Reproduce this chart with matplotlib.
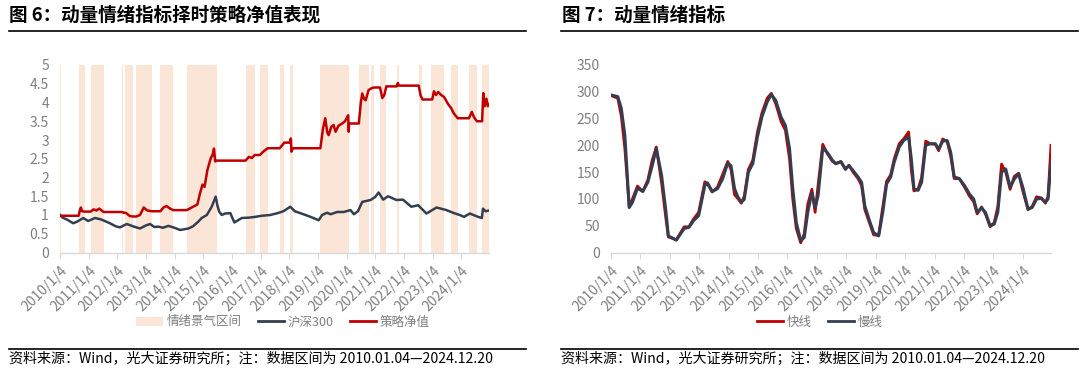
import matplotlib
matplotlib.use('Agg')
import matplotlib.pyplot as plt
from matplotlib.lines import Line2D
from matplotlib.patches import Patch

plt.rcParams['font.family'] = ['Noto Sans CJK SC', 'DejaVu Sans']

# ---- 图6 数据 (年份用小数表示) ----
band_start = [2010.01, 2010.66, 2011.08, 2012.18, 2012.28, 2012.67, 2013.51, 2014.43,
              2016.48, 2016.98, 2017.67, 2018.02, 2019.09, 2020.42, 2020.87, 2021.17,
              2021.75, 2022.52, 2022.96, 2023.64, 2024.26, 2024.73]
band_end = [2010.05, 2010.88, 2011.53, 2012.22, 2012.57, 2013.22, 2013.96, 2015.47,
            2016.80, 2017.25, 2017.83, 2018.13, 2020.09, 2020.77, 2020.96, 2021.39,
            2021.83, 2022.65, 2023.40, 2023.88, 2024.54, 2024.97]

nav_t = [2010.01, 2010.05, 2010.66, 2010.70, 2010.74, 2010.78, 2010.88, 2011.08, 2011.18, 2011.28,
         2011.38, 2011.53, 2012.18, 2012.22, 2012.30, 2012.45, 2012.57, 2012.67, 2012.80, 2012.93,
         2013.05, 2013.22, 2013.51, 2013.62, 2013.72, 2013.85, 2013.96, 2014.43, 2014.60, 2014.80,
         2014.90, 2014.98, 2015.05, 2015.15, 2015.27, 2015.33, 2015.38, 2015.42, 2015.47, 2016.48,
         2016.60, 2016.70, 2016.80, 2016.98, 2017.10, 2017.25, 2017.67, 2017.78, 2017.83, 2018.02,
         2018.06, 2018.08, 2018.13, 2019.09, 2019.18, 2019.26, 2019.33, 2019.38, 2019.47, 2019.55,
         2019.62, 2019.72, 2019.85, 2019.95, 2020.06, 2020.08, 2020.09, 2020.43, 2020.50, 2020.55,
         2020.61, 2020.67, 2020.77, 2020.87, 2020.96, 2021.17, 2021.25, 2021.32, 2021.39, 2021.75,
         2021.79, 2021.83, 2022.52, 2022.58, 2022.65, 2022.99, 2023.05, 2023.12, 2023.20, 2023.30,
         2023.40, 2023.55, 2023.65, 2023.75, 2023.88, 2024.27, 2024.37, 2024.45, 2024.55, 2024.73,
         2024.77, 2024.82, 2024.88, 2024.93, 2024.97]
nav_v = [1.00, 0.98, 0.98, 1.12, 1.20, 1.10, 1.09, 1.09, 1.15, 1.12,
         1.17, 1.08, 1.08, 1.06, 1.06, 0.97, 0.96, 0.96, 1.00, 1.20,
         1.12, 1.10, 1.10, 1.20, 1.24, 1.17, 1.13, 1.13, 1.20, 1.28,
         1.60, 1.81, 1.75, 2.20, 2.52, 2.60, 2.77, 2.43, 2.45, 2.45,
         2.55, 2.52, 2.60, 2.60, 2.69, 2.78, 2.78, 2.88, 2.93, 2.93,
         3.04, 2.69, 2.78, 2.78, 3.30, 3.58, 3.20, 3.13, 3.35, 3.40,
         3.22, 3.38, 3.44, 3.50, 3.66, 3.22, 3.44, 3.44, 4.00, 4.24,
         4.10, 4.06, 4.33, 4.38, 4.40, 4.40, 4.12, 4.20, 4.43, 4.43,
         4.52, 4.45, 4.45, 4.20, 4.08, 4.08, 4.30, 4.20, 4.28, 4.20,
         4.15, 3.95, 3.85, 3.70, 3.58, 3.58, 3.75, 3.60, 3.50, 3.50,
         4.25, 3.90, 4.10, 3.90, 3.95]

hs_t = [2010.01, 2010.10, 2010.25, 2010.47, 2010.60, 2010.82, 2010.99, 2011.23, 2011.45, 2011.75,
        2011.95, 2012.10, 2012.34, 2012.55, 2012.80, 2013.00, 2013.15, 2013.30, 2013.44, 2013.60,
        2013.79, 2014.00, 2014.20, 2014.49, 2014.65, 2014.83, 2014.95, 2015.13, 2015.30, 2015.44,
        2015.50, 2015.56, 2015.65, 2015.77, 2015.95, 2016.09, 2016.35, 2016.60, 2016.81, 2017.05,
        2017.34, 2017.60, 2017.80, 2018.04, 2018.20, 2018.50, 2018.75, 2019.03, 2019.15, 2019.32,
        2019.45, 2019.67, 2019.90, 2020.14, 2020.26, 2020.40, 2020.55, 2020.84, 2021.00, 2021.12,
        2021.28, 2021.45, 2021.74, 2021.97, 2022.26, 2022.50, 2022.79, 2023.14, 2023.49, 2023.75,
        2023.95, 2024.10, 2024.30, 2024.59, 2024.72, 2024.76, 2024.85, 2024.97]
hs_v = [1.00, 0.93, 0.88, 0.78, 0.82, 0.92, 0.84, 0.92, 0.88, 0.78,
        0.70, 0.67, 0.76, 0.70, 0.64, 0.72, 0.76, 0.68, 0.69, 0.66,
        0.71, 0.66, 0.60, 0.64, 0.70, 0.82, 0.92, 1.00, 1.22, 1.49,
        1.25, 1.09, 1.00, 1.04, 1.05, 0.80, 0.92, 0.93, 0.95, 0.98,
        1.00, 1.05, 1.10, 1.22, 1.10, 1.02, 0.95, 0.86, 1.00, 1.06,
        1.02, 1.08, 1.08, 1.13, 1.02, 1.10, 1.35, 1.40, 1.48, 1.60,
        1.41, 1.50, 1.40, 1.41, 1.22, 1.26, 1.04, 1.20, 1.13, 1.05,
        1.00, 0.95, 1.04, 0.95, 0.92, 1.17, 1.10, 1.12]

# ---- 图7 数据 ----
mo_t = [2010.01, 2010.24, 2010.36, 2010.48, 2010.63, 2010.74, 2010.91, 2011.09, 2011.26, 2011.41,
        2011.55, 2011.73, 2011.88, 2011.96, 2012.23, 2012.50, 2012.66, 2012.81, 2012.99, 2013.20,
        2013.29, 2013.45, 2013.63, 2013.80, 2013.98, 2014.09, 2014.21, 2014.33, 2014.44, 2014.54,
        2014.68, 2014.83, 2014.99, 2015.14, 2015.32, 2015.46, 2015.61, 2015.79, 2015.94, 2016.08,
        2016.19, 2016.31, 2016.46, 2016.58, 2016.70, 2016.84, 2016.95, 2017.05, 2017.21, 2017.36,
        2017.54, 2017.65, 2017.83, 2017.98, 2018.10, 2018.24, 2018.41, 2018.53, 2018.64, 2018.80,
        2018.94, 2019.11, 2019.25, 2019.38, 2019.52, 2019.64, 2019.81, 2019.96, 2020.13, 2020.22,
        2020.31, 2020.45, 2020.57, 2020.71, 2020.86, 2021.04, 2021.15, 2021.29, 2021.44, 2021.56,
        2021.68, 2021.85, 2022.03, 2022.20, 2022.34, 2022.46, 2022.61, 2022.74, 2022.90, 2023.04,
        2023.16, 2023.29, 2023.43, 2023.58, 2023.72, 2023.87, 2024.01, 2024.19, 2024.33, 2024.48,
        2024.64, 2024.78, 2024.87, 2024.97]
slow = [294, 291, 269, 219, 84, 94, 120, 114, 131, 162,
        194, 144, 75, 31, 23, 45, 47, 59, 69, 125,
        130, 114, 119, 137, 167, 162, 119, 103, 94, 99,
        150, 166, 216, 253, 281, 295, 284, 253, 237, 194,
        119, 56, 22, 28, 75, 112, 84, 106, 195, 187,
        172, 166, 169, 156, 162, 153, 141, 131, 87, 59,
        37, 31, 75, 128, 141, 169, 197, 209, 216, 175,
        119, 116, 131, 200, 203, 203, 193, 208, 209, 187,
        141, 138, 125, 109, 100, 75, 83, 75, 50, 53,
        75, 150, 156, 122, 137, 147, 122, 81, 84, 100,
        101, 94, 100, 167]
fast = [293, 288, 255, 195, 85, 100, 124, 114, 135, 172,
        197, 130, 62, 29, 24, 48, 48, 62, 75, 132,
        128, 113, 122, 145, 170, 155, 108, 100, 92, 105,
        155, 172, 225, 260, 288, 297, 278, 245, 228, 175,
        100, 45, 18, 35, 90, 118, 75, 125, 202, 185,
        170, 166, 170, 155, 163, 150, 138, 125, 80, 55,
        33, 32, 85, 133, 145, 175, 203, 212, 225, 155,
        115, 118, 140, 208, 203, 202, 190, 212, 207, 180,
        138, 138, 122, 105, 95, 72, 85, 72, 48, 56,
        85, 165, 150, 118, 142, 148, 115, 80, 86, 104,
        102, 92, 105, 200]

years = list(range(2010, 2025))
tick_pos = [y + 0.01 for y in years]
tick_lab = [f'{y}/1/4' for y in years]

RED = '#C00000'
DARK = '#333F50'
SHADE = '#FBE5D6'
GRAY = '#7F7F7F'

fig = plt.figure(figsize=(10.8, 3.74), dpi=100)
W, H = 1080, 374


def fx(px):
    return px / W


def fy(py):
    return 1 - py / H


def style_axis(ax):
    for s in ['top', 'right', 'left']:
        ax.spines[s].set_visible(False)
    ax.spines['bottom'].set_color('#D9D9D9')
    ax.spines['bottom'].set_linewidth(1)
    ax.set_xlim(2010.01, 2024.97)
    ax.set_xticks(tick_pos)
    ax.set_xticklabels(tick_lab, rotation=45, ha='right', rotation_mode='anchor')
    ax.tick_params(axis='x', length=4, color='#D9D9D9', labelsize=10, labelcolor=GRAY, pad=4)
    ax.tick_params(axis='y', length=0, labelsize=10, labelcolor=GRAY, pad=8)


# ---- 左图 ----
ax1 = fig.add_axes([fx(60), fy(252.5), fx(489 - 60), (252.5 - 65) / H])
for a, b in zip(band_start, band_end):
    ax1.axvspan(a, b, color=SHADE, lw=0, zorder=0)
ax1.plot(hs_t, hs_v, color=DARK, lw=1.8, zorder=2)
ax1.plot(nav_t, nav_v, color=RED, lw=1.8, zorder=3)
ax1.set_ylim(0, 5)
ax1.set_yticks([0, 0.5, 1, 1.5, 2, 2.5, 3, 3.5, 4, 4.5, 5])
ax1.set_yticklabels(['0', '0.5', '1', '1.5', '2', '2.5', '3', '3.5', '4', '4.5', '5'])
style_axis(ax1)

h1 = [Patch(facecolor=SHADE, edgecolor='none'),
      Line2D([], [], color=DARK, lw=2),
      Line2D([], [], color=RED, lw=2)]
fig.legend(h1, ['情绪景气区间', '沪深300', '策略净值'], loc='center',
           bbox_to_anchor=(fx(283), fy(322)), ncol=3, frameon=False, fontsize=9,
           handlelength=2.1, handletextpad=0.3, columnspacing=1.3, labelcolor=GRAY)

# ---- 右图 ----
ax2 = fig.add_axes([fx(611), fy(252.5), fx(1051 - 611), (252.5 - 65) / H])
ax2.plot(mo_t, fast, color=RED, lw=2.0, zorder=2)
ax2.plot(mo_t, slow, color=DARK, lw=2.2, zorder=3)
ax2.set_ylim(0, 350)
ax2.set_yticks(range(0, 351, 50))
style_axis(ax2)

h2 = [Line2D([], [], color=RED, lw=2), Line2D([], [], color=DARK, lw=2)]
fig.legend(h2, ['快线', '慢线'], loc='center', bbox_to_anchor=(fx(820), fy(322)),
           ncol=2, frameon=False, fontsize=9, handlelength=2.1, handletextpad=0.3,
           columnspacing=1.3, labelcolor=GRAY)

# ---- 标题、分隔线、来源 ----
fig.text(fx(9), fy(15), '图 6：动量情绪指标择时策略净值表现', fontsize=13.35, fontweight='bold',
         va='center', ha='left')
fig.text(fx(562), fy(15), '图 7：动量情绪指标', fontsize=13.35, fontweight='bold',
         va='center', ha='left')
src = '资料来源：Wind，光大证券研究所；注：数据区间为 2010.01.04—2024.12.20'
fig.text(fx(9), fy(359), src, fontsize=10.1, va='center', ha='left')
fig.text(fx(561), fy(359), src, fontsize=10.1, va='center', ha='left')

for x0, x1 in [(9, 526), (561, 1078)]:
    fig.add_artist(Line2D([fx(x0), fx(x1)], [fy(31), fy(31)], color='black', lw=1.2))
    fig.add_artist(Line2D([fx(x0), fx(x1)], [fy(349), fy(349)], color='black', lw=1.2))

fig.savefig('out.png', dpi=100)
